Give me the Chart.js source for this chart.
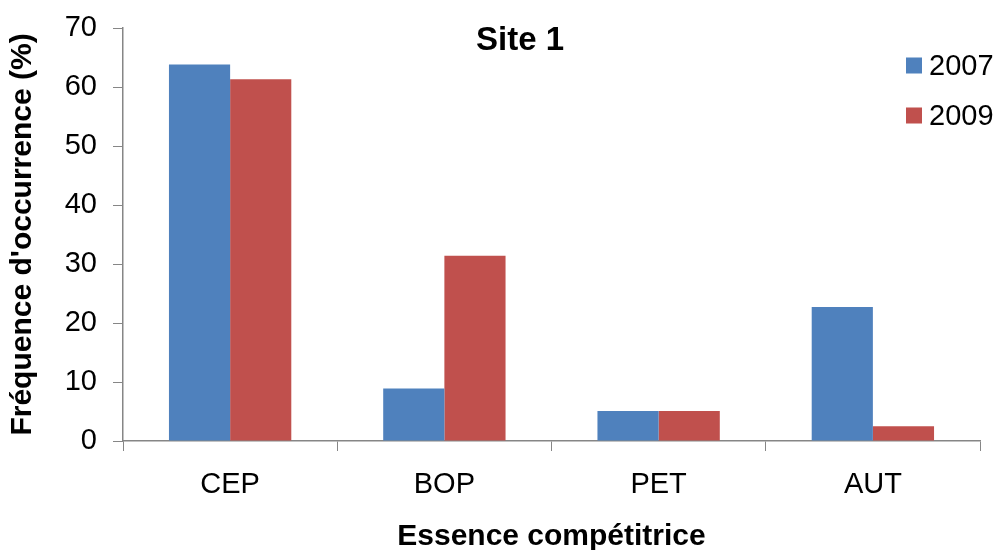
<!DOCTYPE html>
<html>
<head>
<meta charset="utf-8">
<script src="https://cdn.jsdelivr.net/npm/chart.js@4/dist/chart.umd.min.js"></script>
<style>
  html, body { margin: 0; padding: 0; background: #ffffff; }
  #wrap { width: 1000px; height: 550px; position: relative; }
</style>
</head>
<body>
<div id="wrap"><canvas id="chart" width="1000" height="550"></canvas></div>
<script>
// Competing species and their occurrence frequency (%) per survey year
const categories = ['CEP', 'BOP', 'PET', 'AUT'];
const seriesLabels = ['2007', '2009'];
const values2007 = [63.8, 8.9, 5.1, 22.7];
const values2009 = [61.3, 31.4, 5.1, 2.5];
const yTicks = [0, 10, 20, 30, 40, 50, 60, 70];

const chartTitle = 'Site 1';
const xTitle = 'Essence compétitrice';
const yTitle = "Fréquence d'occurrence (%)";

const FONT = '"Liberation Sans", Arial, Helvetica, sans-serif';
const AXIS_GREY = '#868686';
const colors = ['#4F81BD', '#C0504D'];

// Chart title and a compact legend drawn over the plot area
const overlayPlugin = {
  id: 'overlay',
  afterDraw(chart) {
    const ctx = chart.ctx;
    ctx.save();
    ctx.fillStyle = '#000';
    ctx.textAlign = 'center';
    ctx.textBaseline = 'middle';
    ctx.font = 'bold 33px ' + FONT;
    ctx.fillText(chartTitle, 520, 41);

    ctx.font = '29px ' + FONT;
    ctx.textAlign = 'left';
    chart.data.datasets.forEach((ds, i) => {
      const cy = 65.5 + i * 50;
      ctx.fillStyle = ds.backgroundColor;
      ctx.fillRect(906, cy - 8, 16, 16);
      ctx.fillStyle = '#000';
      ctx.fillText(ds.label, 929, cy + 1);
    });
    ctx.restore();
  }
};

new Chart(document.getElementById('chart'), {
  type: 'bar',
  data: {
    labels: categories,
    datasets: [
      { label: seriesLabels[0], data: values2007, backgroundColor: colors[0] },
      { label: seriesLabels[1], data: values2009, backgroundColor: colors[1] }
    ]
  },
  options: {
    responsive: false,
    animation: false,
    layout: { padding: { left: 0, right: 20, top: 28, bottom: 0 } },
    datasets: {
      bar: { categoryPercentage: 0.571, barPercentage: 1.0, borderWidth: 0 }
    },
    plugins: {
      legend: { display: false },
      title: { display: false },
      tooltip: { enabled: false }
    },
    scales: {
      x: {
        grid: {
          display: true,
          drawOnChartArea: false,
          drawTicks: true,
          tickLength: 10,
          color: AXIS_GREY,
          offset: true
        },
        border: { display: true, color: AXIS_GREY, width: 1.5 },
        ticks: {
          color: '#000',
          font: { family: FONT, size: 29 },
          padding: 17,
          maxRotation: 0,
          autoSkip: false
        },
        title: {
          display: true,
          text: xTitle,
          color: '#000',
          font: { family: FONT, size: 30, weight: 'bold' },
          padding: { top: 0, bottom: -5 }
        },
        afterFit(scale) { scale.height = 109; }
      },
      y: {
        min: 0,
        max: 70,
        afterBuildTicks(scale) { scale.ticks = yTicks.map(v => ({ value: v })); },
        grid: {
          display: true,
          drawOnChartArea: false,
          drawTicks: true,
          tickLength: 10,
          color: AXIS_GREY
        },
        border: { display: true, color: AXIS_GREY, width: 1.5 },
        ticks: {
          color: '#000',
          font: { family: FONT, size: 29 },
          padding: 16
        },
        title: {
          display: true,
          text: yTitle,
          color: '#000',
          font: { family: FONT, size: 30, weight: 'bold' },
          padding: { top: 5, bottom: 0 }
        },
        afterFit(scale) {
          scale.width = 123;
          // keep the top label's overhang from pushing the plot down
          scale.paddingTop = 10;
          scale.paddingBottom = 10;
        }
      }
    }
  },
  plugins: [overlayPlugin]
});
</script>
</body>
</html>
